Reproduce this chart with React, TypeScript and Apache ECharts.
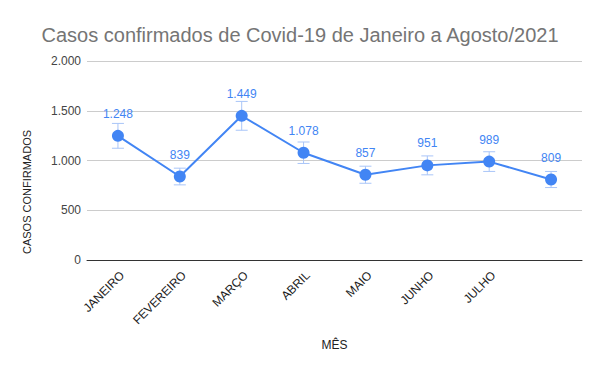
import React, { useEffect, useRef } from "react";
import * as echarts from "echarts";

const TITLE = "Casos confirmados de Covid-19 de Janeiro a Agosto/2021";
const months = ["JANEIRO", "FEVEREIRO", "MARÇO", "ABRIL", "MAIO", "JUNHO", "JULHO", ""];
const cases = [1248, 839, 1449, 1078, 857, 951, 989, 809];
const ERROR_PCT = 0.1;
const Y_NAME = "CASOS CONFIRMADOS";
const X_NAME = "MÊS";

const FONT = "'Liberation Sans', Arial, sans-serif";
const BLUE = "#4285F4";

const fmt = (v: number) => String(Math.round(v)).replace(/\B(?=(\d{3})+(?!\d))/g, ".");

export default function App() {
  const ref = useRef<HTMLDivElement>(null);
  useEffect(() => {
    if (!ref.current) return;
    const chart = echarts.init(ref.current, null, { renderer: "svg" });
    const errData = cases.map((v, i) => [i, v * (1 - ERROR_PCT), v * (1 + ERROR_PCT)]);
    chart.setOption({
      animation: false,
      backgroundColor: "#ffffff",
      title: {
        text: TITLE,
        left: "center",
        top: 20,
        textStyle: { fontFamily: FONT, fontSize: 20, fontWeight: "normal", color: "#757575" },
      },
      grid: { left: 87, right: 18, top: 61, bottom: 111 },
      xAxis: {
        type: "category",
        data: months,
        boundaryGap: true,
        axisLine: { show: true, lineStyle: { color: "#333333", width: 1 } },
        axisTick: { show: false },
        axisLabel: {
          rotate: 45,
          interval: 0,
          margin: 9,
          verticalAlign: "top",
          fontFamily: FONT,
          fontSize: 12,
          color: "#222222",
        },
        name: X_NAME,
        nameLocation: "middle",
        nameGap: 79,
        nameTextStyle: { fontFamily: FONT, fontSize: 12, color: "#222222" },
      },
      yAxis: {
        type: "value",
        min: 0,
        max: 2000,
        interval: 500,
        axisLine: { show: false },
        axisTick: { show: false },
        splitLine: { lineStyle: { color: "#cccccc", width: 1 } },
        axisLabel: {
          formatter: (v: number) => fmt(v),
          margin: 6,
          fontFamily: FONT,
          fontSize: 12,
          color: "#444444",
        },
      },
      graphic: [
        {
          type: "text",
          x: 27,
          y: 192,
          rotation: Math.PI / 2,
          style: {
            text: Y_NAME,
            fontFamily: FONT,
            fontSize: 11,
            fill: "#222222",
            align: "center",
            verticalAlign: "middle",
          },
        },
      ],
      series: [
        {
          type: "custom",
          data: errData,
          z: 1,
          renderItem: (params: any, api: any) => {
            const x = api.value(0);
            const lo = api.coord([x, api.value(1)]);
            const hi = api.coord([x, api.value(2)]);
            const hw = 6;
            const style = { stroke: "#a9c5f8", lineWidth: 1 };
            return {
              type: "group",
              children: [
                { type: "line", shape: { x1: lo[0], y1: lo[1], x2: hi[0], y2: hi[1] }, style },
                { type: "line", shape: { x1: lo[0] - hw, y1: lo[1], x2: lo[0] + hw, y2: lo[1] }, style },
                { type: "line", shape: { x1: hi[0] - hw, y1: hi[1], x2: hi[0] + hw, y2: hi[1] }, style },
              ],
            };
          },
        },
        {
          type: "line",
          data: cases,
          z: 3,
          symbol: "circle",
          symbolSize: 12,
          itemStyle: { color: BLUE },
          lineStyle: { color: BLUE, width: 2 },
          label: {
            show: true,
            position: "top",
            distance: 10,
            formatter: (p: any) => fmt(p.value),
            fontFamily: FONT,
            fontSize: 12,
            color: BLUE,
          },
        },
      ],
    });
    return () => chart.dispose();
  }, []);
  return (
    <div
      ref={ref}
      style={{ position: "fixed", left: 0, top: 0, width: 600, height: 371 }}
    />
  );
}
